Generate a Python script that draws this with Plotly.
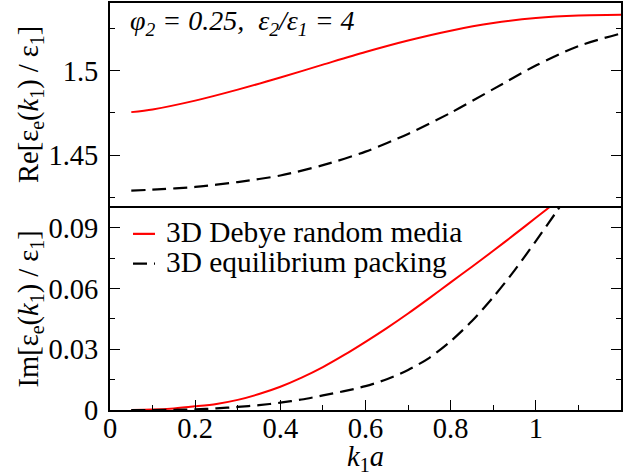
import plotly.graph_objects as go

# ---- data ----
k_re = [0.05, 0.1, 0.2, 0.3, 0.4, 0.5, 0.6, 0.7, 0.8, 0.9, 1.0, 1.1, 1.2]
re_debye = [1.4754, 1.4770, 1.4822, 1.4887, 1.4959, 1.5035, 1.5110, 1.5178,
            1.5236, 1.5281, 1.5311, 1.5326, 1.5330]
re_pack = [1.4289, 1.4295, 1.4311, 1.4340, 1.4379, 1.4440, 1.4520, 1.4625,
           1.4750, 1.4890, 1.5030, 1.5145, 1.5220]

k_im = [0.05, 0.1, 0.15, 0.2, 0.25, 0.3, 0.35, 0.4, 0.45, 0.5, 0.55, 0.6,
        0.65, 0.7, 0.75, 0.8, 0.85, 0.9, 0.95, 1.0, 1.05, 1.1]
im_debye = [0.0000, 0.0002, 0.0008, 0.0018, 0.0030, 0.0050, 0.0079, 0.0115,
            0.0160, 0.0212, 0.0272, 0.0337, 0.0405, 0.0477, 0.0553, 0.0631,
            0.0708, 0.0787, 0.0868, 0.0950, 0.1033, 0.1117]
im_pack = [0.0000, 0.0000, 0.0001, 0.0003, 0.0008, 0.0015, 0.0024, 0.0036,
           0.0052, 0.0072, 0.0093, 0.0118, 0.0152, 0.0198, 0.0258, 0.0340,
           0.0440, 0.0558, 0.0690, 0.0835, 0.0985, 0.1140]

series_names = ["3D Debye random media", "3D equilibrium packing"]

x_ticks = [0, 0.2, 0.4, 0.6, 0.8, 1.0]
x_ticktext = ["0", "0.2", "0.4", "0.6", "0.8", "1"]
re_ticks = [1.45, 1.5]
re_ticktext = ["1.45", "1.5"]
im_ticks = [0, 0.03, 0.06, 0.09]
im_ticktext = ["0", "0.03", "0.06", "0.09"]

RED = "#ff0000"
BLACK = "#000000"
FONT = '"Liberation Serif", "Times New Roman", Times, serif'
FS = 28.5
FS_LEG = 29.4
DASH = "14px,7px"

W, H = 644, 476
ML, MR, MT, MB = 110, 23, 1, 66
PH = H - MT - MB          # plot-area height in px
PW = W - ML - MR


def py(ypix):
    """page pixel row -> paper fraction"""
    return (H - MB - ypix) / PH


def px(xpix):
    return (xpix - ML) / PW


fig = go.Figure()

# upper panel (real part)
fig.add_trace(go.Scatter(x=k_re, y=re_debye, mode="lines", xaxis="x2", yaxis="y2",
                         line=dict(color=RED, width=2, shape="spline", smoothing=0.8),
                         showlegend=False, name=series_names[0]))
fig.add_trace(go.Scatter(x=k_re, y=re_pack, mode="lines", xaxis="x2", yaxis="y2",
                         line=dict(color=BLACK, width=2.2, dash=DASH, shape="spline", smoothing=0.8),
                         showlegend=False, name=series_names[1]))
# lower panel (imaginary part)
fig.add_trace(go.Scatter(x=k_im, y=im_debye, mode="lines", xaxis="x", yaxis="y",
                         line=dict(color=RED, width=2, shape="spline", smoothing=0.8),
                         showlegend=False, name=series_names[0]))
fig.add_trace(go.Scatter(x=k_im, y=im_pack, mode="lines", xaxis="x", yaxis="y",
                         line=dict(color=BLACK, width=2.2, dash=DASH, shape="spline", smoothing=0.8),
                         showlegend=False, name=series_names[1]))

axis_common = dict(showline=True, linewidth=2, linecolor=BLACK, showgrid=False,
                   zeroline=False, ticks="inside", ticklen=10, tickwidth=1.3,
                   tickcolor=BLACK, tickfont=dict(family=FONT, size=FS, color=BLACK))

lower_top = py(206.7)
upper_bot = py(204.7)

# manual legend (short line samples like the original)
legend_rows = [(233, RED, "solid"), (263, BLACK, DASH)]
shapes = []
annotations = []
for (row_y, col, dsh), name in zip(legend_rows, series_names):
    shapes.append(dict(type="line", xref="paper", yref="paper",
                       x0=px(133), x1=px(155), y0=py(row_y), y1=py(row_y),
                       line=dict(color=col, width=2.2, dash=dsh)))
    annotations.append(dict(xref="paper", yref="paper", x=px(164), y=py(row_y - 2),
                            xanchor="left", yanchor="middle", showarrow=False,
                            text=name, font=dict(family=FONT, size=FS_LEG, color=BLACK)))

annotations.append(dict(xref="paper", yref="paper", x=px(128), y=py(21),
                        xanchor="left", yanchor="middle", showarrow=False,
                        text="<i>φ<sub>2</sub> = 0.25,\u00a0\u00a0ε<sub>2</sub>/ε<sub>1</sub> = 4</i>",
                        font=dict(family=FONT, size=28, color=BLACK)))

fig.update_layout(
    width=W, height=H,
    margin=dict(l=ML, r=MR, t=MT, b=MB),
    paper_bgcolor="white", plot_bgcolor="white",
    font=dict(family=FONT, size=FS, color=BLACK),
    showlegend=False,
    xaxis=dict(axis_common, domain=[0, 1], anchor="y", range=[0, 1.2], mirror=True,
               tickmode="array", tickvals=x_ticks, ticktext=x_ticktext,
               minor=dict(ticks="inside", ticklen=5, dtick=0.1, tick0=0,
                          tickwidth=1.3, tickcolor=BLACK),
               ticklabelstandoff=-8,
               title=dict(text="<i>k</i><sub>1</sub><i>a</i>", standoff=0,
                          font=dict(family=FONT, size=FS))),
    xaxis2=dict(showline=True, linewidth=2, linecolor=BLACK, mirror=True,
                showgrid=False, zeroline=False, anchor="y2", matches="x",
                range=[0, 1.2], showticklabels=False, ticks=""),
    yaxis=dict(axis_common, domain=[0, lower_top], anchor="x", range=[0, 0.1], mirror="ticks",
               tickmode="array", tickvals=im_ticks, ticktext=im_ticktext,
               minor=dict(ticks="inside", ticklen=5, dtick=0.015, tick0=0,
                          tickwidth=1.3, tickcolor=BLACK),
               ticklabelstandoff=4,
               title=dict(text="Im[ε<sub>e</sub>(<i>k</i><sub>1</sub>) / ε<sub>1</sub>]",
                          standoff=1, font=dict(family=FONT, size=FS))),
    yaxis2=dict(axis_common, domain=[upper_bot, 1], anchor="x2", range=[1.42, 1.54], mirror="ticks",
                tickmode="array", tickvals=re_ticks, ticktext=re_ticktext,
                minor=dict(ticks="inside", ticklen=5, dtick=0.025, tick0=0,
                           tickwidth=1.3, tickcolor=BLACK),
                ticklabelstandoff=4,
                title=dict(text="Re[ε<sub>e</sub>(<i>k</i><sub>1</sub>) / ε<sub>1</sub>]",
                           standoff=1, font=dict(family=FONT, size=FS))),
    shapes=shapes,
    annotations=annotations,
)

fig.write_html("out.html")
